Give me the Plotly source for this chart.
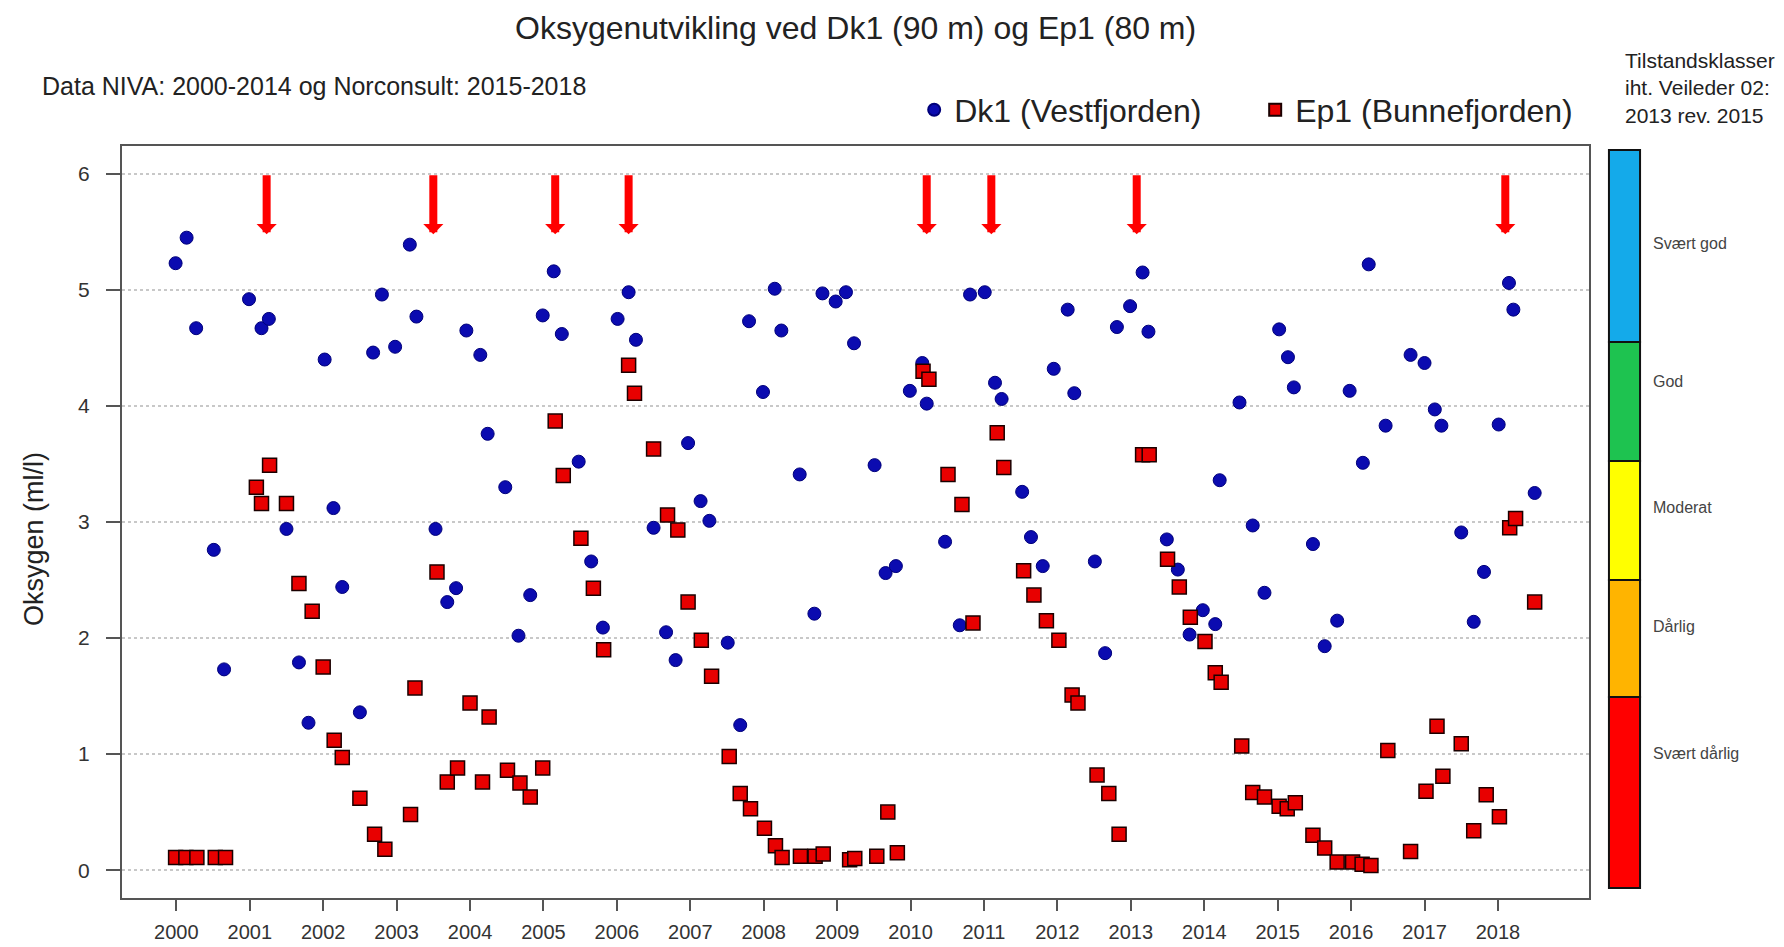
import plotly.graph_objects as go

# ---------------- data ----------------
dk1_year = [1999.99, 2000.14, 2000.27, 2000.51, 2000.65, 2000.99, 2001.16, 2001.26, 2001.50, 2001.67,
            2001.80, 2002.02, 2002.14, 2002.26, 2002.50, 2002.68, 2002.80, 2002.98, 2003.18, 2003.27,
            2003.53, 2003.69, 2003.81, 2003.95, 2004.14, 2004.24, 2004.48, 2004.66, 2004.82, 2004.99,
            2005.14, 2005.25, 2005.48, 2005.65, 2005.81, 2006.01, 2006.16, 2006.26, 2006.50, 2006.67,
            2006.80, 2006.97, 2007.14, 2007.26, 2007.51, 2007.68, 2007.80, 2007.99, 2008.15, 2008.24,
            2008.49, 2008.69, 2008.80, 2008.98, 2009.12, 2009.23, 2009.51, 2009.66, 2009.80, 2009.99,
            2010.16, 2010.22, 2010.47, 2010.67, 2010.81, 2011.01, 2011.15, 2011.24, 2011.52, 2011.64,
            2011.80, 2011.95, 2012.14, 2012.23, 2012.51, 2012.65, 2012.81, 2012.99, 2013.16, 2013.24,
            2013.49, 2013.64, 2013.80, 2013.98, 2014.15, 2014.21, 2014.48, 2014.66, 2014.82, 2015.02,
            2015.14, 2015.22, 2015.48, 2015.64, 2015.81, 2015.98, 2016.16, 2016.24, 2016.47, 2016.81,
            2017.00, 2017.14, 2017.23, 2017.50, 2017.67, 2017.81, 2018.01, 2018.15, 2018.21, 2018.50]
dk1_oxygen = [5.23, 5.45, 4.67, 2.76, 1.73, 4.92, 4.67, 4.75, 2.94, 1.79,
              1.27, 4.40, 3.12, 2.44, 1.36, 4.46, 4.96, 4.51, 5.39, 4.77,
              2.94, 2.31, 2.43, 4.65, 4.44, 3.76, 3.30, 2.02, 2.37, 4.78,
              5.16, 4.62, 3.52, 2.66, 2.09, 4.75, 4.98, 4.57, 2.95, 2.05,
              1.81, 3.68, 3.18, 3.01, 1.96, 1.25, 4.73, 4.12, 5.01, 4.65,
              3.41, 2.21, 4.97, 4.90, 4.98, 4.54, 3.49, 2.56, 2.62, 4.13,
              4.37, 4.02, 2.83, 2.11, 4.96, 4.98, 4.20, 4.06, 3.26, 2.87,
              2.62, 4.32, 4.83, 4.11, 2.66, 1.87, 4.68, 4.86, 5.15, 4.64,
              2.85, 2.59, 2.03, 2.24, 2.12, 3.36, 4.03, 2.97, 2.39, 4.66,
              4.42, 4.16, 2.81, 1.93, 2.15, 4.13, 3.51, 5.22, 3.83, 4.44,
              4.37, 3.97, 3.83, 2.91, 2.14, 2.57, 3.84, 5.06, 4.83, 3.25]

ep1_year = [1999.99, 2000.13, 2000.28, 2000.53, 2000.67, 2001.09, 2001.16, 2001.27, 2001.50, 2001.67,
            2001.85, 2002.00, 2002.15, 2002.26, 2002.50, 2002.70, 2002.84, 2003.19, 2003.25, 2003.55,
            2003.69, 2003.83, 2004.00, 2004.17, 2004.26, 2004.51, 2004.68, 2004.82, 2004.99, 2005.16,
            2005.27, 2005.51, 2005.68, 2005.82, 2006.16, 2006.24, 2006.50, 2006.69, 2006.83, 2006.97,
            2007.15, 2007.29, 2007.53, 2007.68, 2007.82, 2008.01, 2008.16, 2008.25, 2008.50, 2008.70,
            2008.81, 2009.17, 2009.24, 2009.54, 2009.69, 2009.82, 2010.17, 2010.25, 2010.51, 2010.70,
            2010.85, 2011.18, 2011.27, 2011.54, 2011.68, 2011.85, 2012.02, 2012.20, 2012.28, 2012.54,
            2012.70, 2012.84, 2013.16, 2013.25, 2013.50, 2013.66, 2013.81, 2014.01, 2014.15, 2014.23,
            2014.51, 2014.66, 2014.82, 2015.02, 2015.13, 2015.24, 2015.48, 2015.64, 2015.81, 2016.02,
            2016.15, 2016.27, 2016.50, 2016.81, 2017.02, 2017.17, 2017.25, 2017.50, 2017.67, 2017.84,
            2018.02, 2018.16, 2018.24, 2018.50]
ep1_oxygen = [0.11, 0.11, 0.11, 0.11, 0.11, 3.30, 3.16, 3.49, 3.16, 2.47,
              2.23, 1.75, 1.12, 0.97, 0.62, 0.31, 0.18, 0.48, 1.57, 2.57,
              0.76, 0.88, 1.44, 0.76, 1.32, 0.86, 0.75, 0.63, 0.88, 3.87,
              3.40, 2.86, 2.43, 1.90, 4.35, 4.11, 3.63, 3.06, 2.93, 2.31,
              1.98, 1.67, 0.98, 0.66, 0.53, 0.36, 0.21, 0.11, 0.12, 0.12,
              0.14, 0.09, 0.10, 0.12, 0.50, 0.15, 4.30, 4.23, 3.41, 3.15,
              2.13, 3.77, 3.47, 2.58, 2.37, 2.15, 1.98, 1.51, 1.44, 0.82,
              0.66, 0.31, 3.58, 3.58, 2.68, 2.44, 2.18, 1.97, 1.70, 1.62,
              1.07, 0.67, 0.63, 0.55, 0.53, 0.58, 0.30, 0.19, 0.07, 0.07,
              0.05, 0.04, 1.03, 0.16, 0.68, 1.24, 0.81, 1.09, 0.34, 0.65,
              0.46, 2.95, 3.03, 2.31]

# years with deep-water renewal (red arrows)
arrow_years = [2001.23, 2003.50, 2005.16, 2006.16, 2010.22, 2011.10, 2013.08, 2018.10]
arrow_top = 6.0
arrow_tip = 5.48

x_tick_years = list(range(2000, 2019))
y_ticks = [0, 1, 2, 3, 4, 5, 6]

class_labels = ["Svært god", "God", "Moderat", "Dårlig", "Svært dårlig"]
class_colors = ["#14aaea", "#1ec350", "#ffff00", "#ffb400", "#ff0000"]

# ---------------- layout helpers (paper coordinates) ----------------
class_bounds_paper = [0.9947, 0.7394, 0.5811, 0.4229, 0.2673, 0.0133]
class_label_y = [0.871, 0.6862, 0.5199, 0.3617, 0.1928]
bar_x0, bar_x1 = 1.0136, 1.0348

FONT = "Liberation Sans, Arial, sans-serif"

fig = go.Figure()

fig.add_trace(go.Scatter(
    x=dk1_year, y=dk1_oxygen, mode="markers", name="Dk1 (Vestfjorden)",
    marker=dict(symbol="circle", size=13, color="#0b0bb0",
                line=dict(color="#00007a", width=1)),
))
fig.add_trace(go.Scatter(
    x=ep1_year, y=ep1_oxygen, mode="markers", name="Ep1 (Bunnefjorden)",
    marker=dict(symbol="square", size=14, color="#e80000",
                line=dict(color="#1a0000", width=1.5)),
))

annotations = []
for yr in arrow_years:
    annotations.append(dict(
        x=yr, y=arrow_tip, ax=yr, ay=arrow_top, xref="x", yref="y",
        axref="x", ayref="y", text="", showarrow=True,
        arrowhead=1, arrowsize=0.42, arrowwidth=8, arrowcolor="#ff0000",
        standoff=0, startstandoff=0,
    ))

annotations += [
    dict(text="Oksygenutvikling ved Dk1 (90 m) og Ep1 (80 m)", x=0.5003, y=1.1569,
         xref="paper", yref="paper", xanchor="center", yanchor="middle",
         showarrow=False, font=dict(family=FONT, size=32, color="#222222")),
    dict(text="Data NIVA: 2000-2014 og Norconsult: 2015-2018", x=-0.0559, y=1.0795,
         xref="paper", yref="paper", xanchor="left", yanchor="middle",
         showarrow=False, font=dict(family=FONT, size=25, color="#222222")),
    dict(text="Oksygen (ml/l)", x=-0.060, y=0.4774, textangle=-90,
         xref="paper", yref="paper", xanchor="center", yanchor="middle",
         showarrow=False, font=dict(family=FONT, size=27, color="#222222")),
    dict(text="Tilstandsklasser<br>iht. Veileder 02:<br>2013 rev. 2015", x=1.0235, y=1.0765,
         xref="paper", yref="paper", xanchor="left", yanchor="middle", align="left",
         showarrow=False, font=dict(family=FONT, size=21, color="#222222")),
]

shapes = []
for i, (lab, col) in enumerate(zip(class_labels, class_colors)):
    shapes.append(dict(type="rect", xref="paper", yref="paper",
                       x0=bar_x0, x1=bar_x1,
                       y0=class_bounds_paper[i + 1], y1=class_bounds_paper[i],
                       fillcolor=col, line=dict(color="#111111", width=2)))
    annotations.append(dict(text=lab, x=1.0423, y=class_label_y[i],
                            xref="paper", yref="paper", xanchor="left", yanchor="middle",
                            showarrow=False, font=dict(family=FONT, size=16, color="#444444")))

fig.update_layout(
    width=1784, height=947,
    margin=dict(l=122, r=195, t=146, b=49, autoexpand=False),
    paper_bgcolor="white", plot_bgcolor="white",
    font=dict(family=FONT, color="#333333"),
    showlegend=True,
    legend=dict(orientation="h", x=0.540, y=1.048, xanchor="left", yanchor="middle",
                font=dict(family=FONT, size=32, color="#222222"),
                itemsizing="constant", entrywidth=296, bgcolor="rgba(0,0,0,0)"),
    annotations=annotations,
    shapes=shapes,
)

fig.update_xaxes(
    range=[1999.26, 2019.24], tickmode="array", tickvals=x_tick_years,
    ticktext=[str(v) for v in x_tick_years],
    showgrid=False, zeroline=False, automargin=False,
    showline=True, mirror=True, linecolor="#555555", linewidth=2,
    ticks="outside", ticklen=11, tickwidth=2, tickcolor="#555555",
    ticklabelstandoff=4,
    tickfont=dict(family=FONT, size=20, color="#333333"),
)
fig.update_yaxes(
    range=[-0.24, 6.24], tickmode="array", tickvals=y_ticks,
    showgrid=True, gridcolor="#c8c8c8", griddash="dot", gridwidth=1.5,
    zeroline=False, automargin=False,
    showline=True, mirror=True, linecolor="#555555", linewidth=2,
    ticks="outside", ticklen=14, tickwidth=2, tickcolor="#555555",
    ticklabelstandoff=12,
    tickfont=dict(family=FONT, size=21, color="#333333"),
)

fig.write_html("out.html")
